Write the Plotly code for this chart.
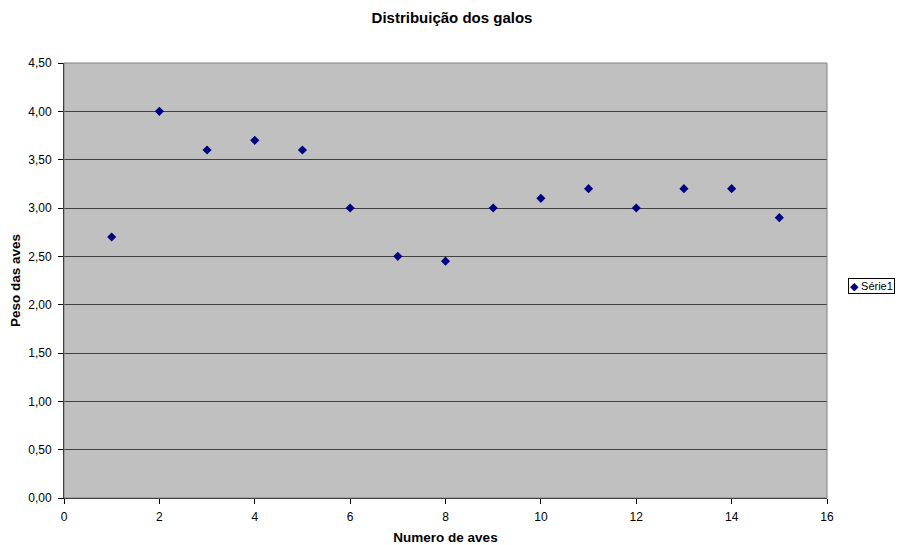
import plotly.graph_objects as go

x_vals = [1, 2, 3, 4, 5, 6, 7, 8, 9, 10, 11, 12, 13, 14, 15]
y_vals = [2.70, 4.00, 3.60, 3.70, 3.60, 3.00, 2.50, 2.45, 3.00, 3.10, 3.20, 3.00, 3.20, 3.20, 2.90]
series_name = "Série1"
title_text = "Distribuição dos galos"
x_title = "Numero de aves"
y_title = "Peso das aves"
y_ticks = [0, 0.5, 1.0, 1.5, 2.0, 2.5, 3.0, 3.5, 4.0, 4.5]
y_tick_text = [f"{v:.2f}".replace(".", ",") for v in y_ticks]
x_ticks = [0, 2, 4, 6, 8, 10, 12, 14, 16]
marker_color = "#000080"

fig = go.Figure()
fig.add_trace(go.Scatter(
    x=x_vals, y=y_vals, mode="markers", name=series_name,
    marker=dict(symbol="diamond", size=7, color=marker_color),
    showlegend=False,
))

font = "Liberation Sans, Arial, sans-serif"
fig.update_layout(
    width=904, height=545,
    margin=dict(l=64, r=77, t=63, b=47, autoexpand=False),
    paper_bgcolor="white",
    plot_bgcolor="#C0C0C0",
    font=dict(family=font, size=12, color="black"),
    title=dict(text=f"<b>{title_text}</b>", x=0.5, xanchor="center", y=0.967, yanchor="middle",
               xref="container", font=dict(size=15, family=font)),
    showlegend=False,
    xaxis=dict(range=[0, 16], tickvals=x_ticks, showgrid=False, zeroline=False,
               showline=True, linecolor="black", linewidth=1,
               ticks="outside", ticklen=5, tickcolor="black", ticklabelstandoff=3,
               tickfont=dict(size=12),
               title=dict(text=f"<b>{x_title}</b>", font=dict(size=13.5), standoff=9)),
    yaxis=dict(range=[0, 4.5], tickvals=y_ticks, ticktext=y_tick_text,
               showgrid=True, gridcolor="#404040", gridwidth=1, zeroline=False,
               showline=True, linecolor="black", linewidth=1,
               ticks="outside", ticklen=5, tickcolor="black", ticklabelstandoff=4,
               tickfont=dict(size=12),
               title=dict(text=f"<b>{y_title}</b>", font=dict(size=13.5), standoff=4)),
)
fig.add_shape(type="rect", xref="paper", yref="paper", x0=0, y0=0, x1=1, y1=1,
              line=dict(color="#808080", width=1), layer="above")
# Legend box (Excel-style)
fig.add_annotation(
    xref="paper", yref="paper", x=1.058, y=0.4885, xanchor="center", yanchor="middle",
    text=f"<span style='color:{marker_color}'>◆</span> {series_name}",
    showarrow=False, font=dict(size=11, family=font, color="black"),
    bordercolor="black", borderwidth=1, borderpad=1, bgcolor="white",
)
fig.write_html("out.html")
